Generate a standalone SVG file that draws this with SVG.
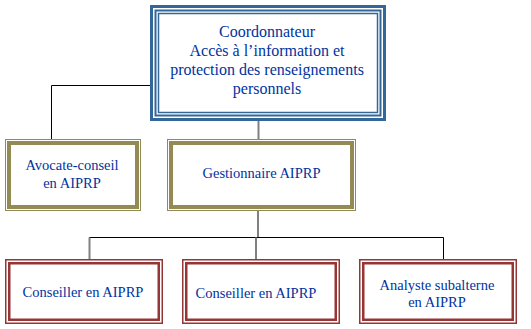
<svg xmlns="http://www.w3.org/2000/svg" width="531" height="329" viewBox="0 0 531 329" font-family="'Liberation Serif', 'DejaVu Serif', serif">
<style>
text{font-size:14.5px;fill:#0033A0;text-anchor:middle}
.big{font-size:16px}
.bl{fill:none;stroke:#336699}
.ol{fill:none;stroke:#948A54}
.rd{fill:none;stroke:#943634}
.k{stroke:#000;stroke-width:1;fill:none}
.g{stroke:#808080;stroke-width:2;fill:none}
</style>
<rect width="531" height="329" fill="#fff"/>
<g id="connectors">
<polyline class="k" points="150.5,85.5 51.5,85.5 51.5,139"/>
<line class="g" x1="258.5" y1="121" x2="258.5" y2="139"/>
<line class="g" x1="258" y1="211" x2="258" y2="237"/>
<polyline class="k" points="89.5,259 89.5,237.5 443.5,237.5 443.5,259"/>
<line class="g" x1="89.5" y1="237.5" x2="89.5" y2="259"/>
<line class="g" x1="256" y1="237.5" x2="256" y2="259"/>
</g>
<g id="coordonnateur">
<rect x="150" y="5" width="236" height="116" fill="#fff"/>
<rect class="bl" x="151.5" y="6.5" width="233" height="113" stroke-width="3"/>
<rect class="bl" x="155.5" y="10.5" width="225" height="105" stroke-width="2"/>
<rect class="bl" x="158.5" y="13.5" width="219" height="99" stroke-width="1.5"/>
<text class="big" x="267" y="37">Coordonnateur</text>
<text class="big" x="267" y="56">Accès à l’information et</text>
<text class="big" x="267" y="75">protection des renseignements</text>
<text class="big" x="267" y="94">personnels</text>
</g>
<g id="avocate">
<rect x="5" y="139" width="136" height="72" fill="#fff"/>
<rect class="ol" x="5.5" y="139.5" width="135" height="71" stroke-width="1"/>
<rect class="ol" x="9" y="143" width="128" height="64" stroke-width="4"/>
<text x="72" y="170">Avocate-conseil</text>
<text x="72" y="188">en AIPRP</text>
</g>
<g id="gestionnaire">
<rect x="167" y="139" width="189" height="72" fill="#fff"/>
<rect class="ol" x="167.5" y="139.5" width="188" height="71" stroke-width="1"/>
<rect class="ol" x="171" y="143" width="181" height="64" stroke-width="4"/>
<text x="261.5" y="178">Gestionnaire AIPRP</text>
</g>
<g id="conseiller1">
<rect x="5" y="259" width="158" height="65" fill="#fff"/>
<rect class="rd" x="5.75" y="259.75" width="156.5" height="63.5" stroke-width="1.5"/>
<rect class="rd" x="9.25" y="263.25" width="149.5" height="56.5" stroke-width="2.5"/>
<text x="83" y="297">Conseiller en AIPRP</text>
</g>
<g id="conseiller2">
<rect x="182" y="259" width="158" height="65" fill="#fff"/>
<rect class="rd" x="182.75" y="259.75" width="156.5" height="63.5" stroke-width="1.5"/>
<rect class="rd" x="186.25" y="263.25" width="149.5" height="56.5" stroke-width="2.5"/>
<text x="256" y="298">Conseiller en AIPRP</text>
</g>
<g id="analyste">
<rect x="359" y="259" width="158" height="65" fill="#fff"/>
<rect class="rd" x="359.75" y="259.75" width="156.5" height="63.5" stroke-width="1.5"/>
<rect class="rd" x="363.25" y="263.25" width="149.5" height="56.5" stroke-width="2.5"/>
<text x="437" y="290">Analyste subalterne</text>
<text x="437" y="307">en AIPRP</text>
</g>
</svg>
